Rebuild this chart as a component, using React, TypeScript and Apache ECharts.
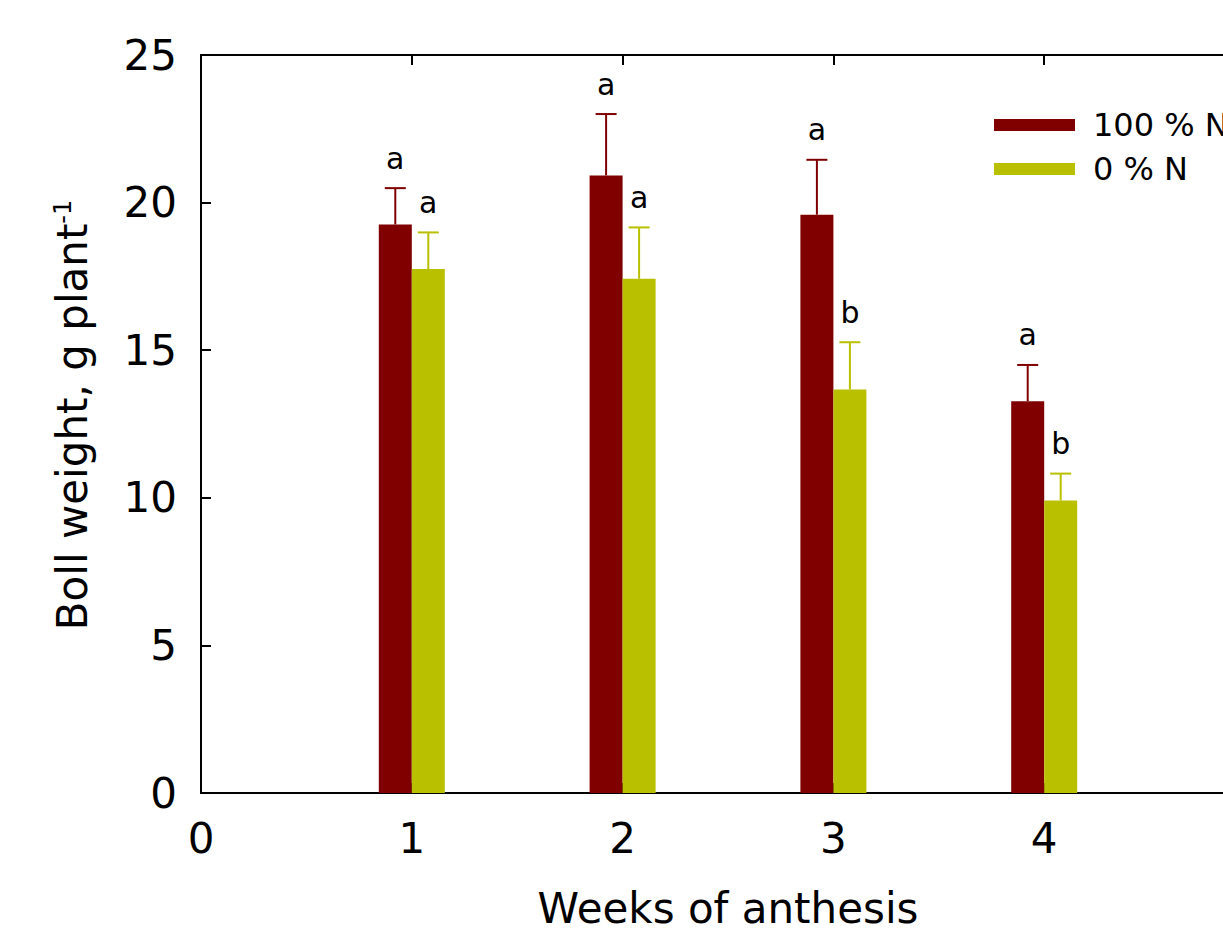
import React, { useEffect, useRef } from "react";
import * as echarts from "echarts";

// ---- data ----
const weeks = [1, 2, 3, 4];
const fullN = [19.26, 20.92, 19.59, 13.27];
const fullNSe = [1.23, 2.08, 1.86, 1.23];
const fullNLetters = ["a", "a", "a", "a"];
const zeroN = [17.75, 17.42, 13.67, 9.91];
const zeroNSe = [1.24, 1.74, 1.6, 0.91];
const zeroNLetters = ["a", "a", "b", "b"];
const seriesNames = ["100 % N", "0 % N"];
const xTitle = "Weeks of anthesis";

const FONT = "DejaVu Sans";
const DARK = "#800000";
const YEL = "#b9c000";

function errSeries(name: string, vals: number[], se: number[], letters: string[], color: string, offset: number) {
  return {
    type: "custom",
    name,
    z: 5,
    encode: { x: 0, y: 1 },
    data: weeks.map((w, i) => [w, vals[i], vals[i] + se[i]]),
    renderItem: (params: any, api: any) => {
      const x = api.value(0);
      const v = api.value(1);
      const up = api.value(2);
      const p0 = api.coord([x, v]);
      const p1 = api.coord([x, up]);
      const cx = p0[0] + offset;
      return {
        type: "group",
        children: [
          { type: "line", shape: { x1: cx, y1: p0[1], x2: cx, y2: p1[1] }, style: { stroke: color, lineWidth: 2 } },
          { type: "line", shape: { x1: cx - 10.5, y1: p1[1], x2: cx + 10.5, y2: p1[1] }, style: { stroke: color, lineWidth: 2 } },
          {
            type: "text",
            x: cx,
            y: p1[1] - 30,
            style: {
              text: letters[params.dataIndex],
              fontSize: 30,
              fontFamily: FONT,
              fill: "#000",
              align: "center",
              verticalAlign: "middle",
            },
          },
        ],
      };
    },
  };
}

export default function App() {
  const ref = useRef<HTMLDivElement>(null);
  useEffect(() => {
    const chart = echarts.init(ref.current!, undefined, { renderer: "svg" });
    const axisLine = { show: true, onZero: false, lineStyle: { color: "#000", width: 2 } };
    const tick = { show: true, inside: true, length: 10, lineStyle: { color: "#000", width: 2 } };
    chart.setOption({
      animation: false,
      backgroundColor: "#fff",
      textStyle: { fontFamily: FONT },
      grid: { left: 201, top: 55, width: 1054, height: 738 },
      legend: {
        data: seriesNames,
        orient: "vertical",
        left: 994,
        top: 109,
        padding: 0,
        itemWidth: 81,
        itemHeight: 12,
        itemGap: 12,
        icon: "rect",
        textStyle: { fontSize: 32, fontFamily: FONT, color: "#000", padding: [0, 0, 0, 13] },
      },
      xAxis: [
        {
          type: "value",
          position: "bottom",
          min: 0,
          max: 5,
          interval: 1,
          axisLine,
          axisTick: tick,
          splitLine: { show: false },
          axisLabel: { fontSize: 42, fontFamily: FONT, color: "#000", margin: 24, showMaxLabel: false },
          name: xTitle,
          nameLocation: "middle",
          nameGap: 94,
          nameTextStyle: { fontSize: 42, fontFamily: FONT, color: "#000" },
        },
        {
          type: "value",
          position: "top",
          min: 0,
          max: 5,
          interval: 1,
          axisLine,
          axisTick: tick,
          splitLine: { show: false },
          axisLabel: { show: false },
        },
      ],
      yAxis: {
        type: "value",
        min: 0,
        max: 25,
        interval: 5,
        axisLine,
        axisTick: tick,
        splitLine: { show: false },
        axisLabel: { fontSize: 42, fontFamily: FONT, color: "#000", margin: 24 },
        name: "{m|Boll weight, g plant}{s|-1}",
        nameLocation: "middle",
        nameGap: 108,
        nameTextStyle: {
          color: "#000",
          padding: [0, 0, 0, 18],
          rich: {
            m: { fontSize: 42, fontFamily: FONT, color: "#000" },
            s: { fontSize: 24, fontFamily: FONT, color: "#000", verticalAlign: "top" },
          },
        },
      },
      series: [
        {
          type: "bar",
          name: seriesNames[0],
          data: weeks.map((w, i) => [w, fullN[i]]),
          barWidth: 33,
          barGap: "0%",
          itemStyle: { color: DARK },
        },
        {
          type: "bar",
          name: seriesNames[1],
          data: weeks.map((w, i) => [w, zeroN[i]]),
          barWidth: 33,
          barGap: "0%",
          itemStyle: { color: YEL },
        },
        errSeries("err100", fullN, fullNSe, fullNLetters, DARK, -16.5),
        errSeries("err0", zeroN, zeroNSe, zeroNLetters, YEL, 16.5),
      ],
    });
    return () => chart.dispose();
  }, []);
  return (
    <div style={{ position: "absolute", left: 0, top: 0, width: 1223, height: 937, overflow: "hidden" }}>
      <div ref={ref} style={{ width: 1262, height: 937 }} />
    </div>
  );
}
